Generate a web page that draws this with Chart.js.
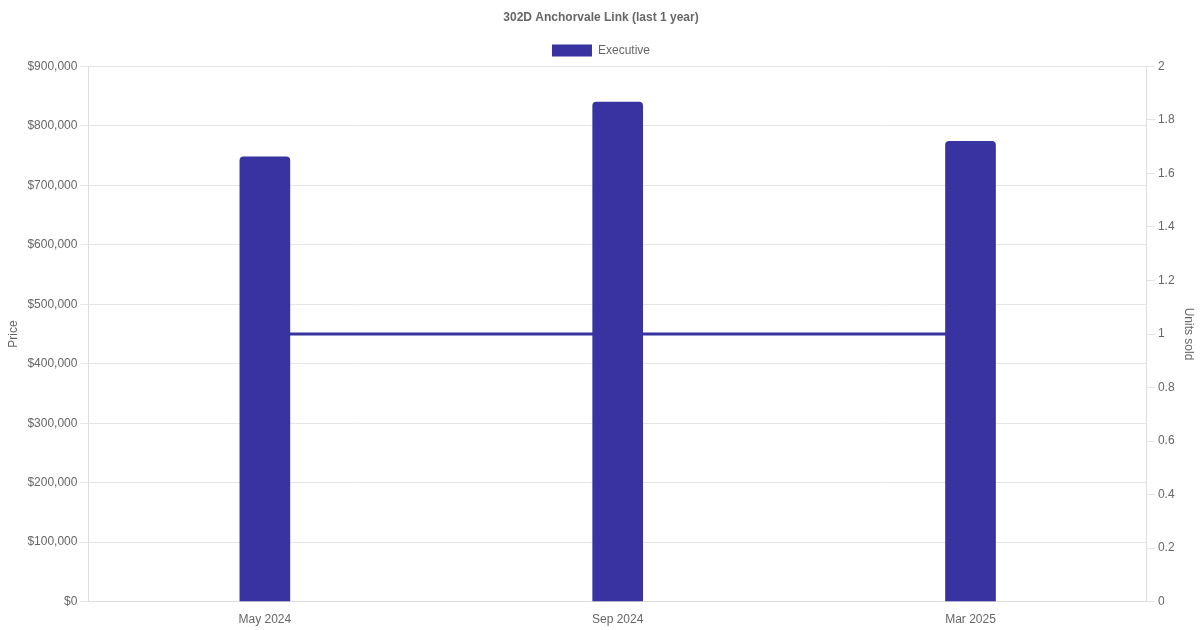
<!DOCTYPE html>
<html><head><meta charset="utf-8">
<script src="https://cdn.jsdelivr.net/npm/chart.js@4"></script>
<style>html,body{margin:0;padding:0;background:#fff}#wrap{width:1200px;height:630px}</style>
</head><body><div id="wrap"><canvas id="c" width="1200" height="630"></canvas></div>
<script>
const categories = ["May 2024", "Sep 2024", "Mar 2025"];
const prices = [748000, 840000, 774000];
const unitsSold = [1, 1, 1];
const seriesName = "Executive";
const color = "#3833A0";

Chart.defaults.font.family = "'Liberation Sans', Arial, Helvetica, sans-serif";
Chart.defaults.font.size = 12;
Chart.defaults.color = "#666";

new Chart(document.getElementById('c'), {
  data: {
    labels: categories,
    datasets: [
      { type: 'bar', label: seriesName, data: prices, backgroundColor: color, borderRadius: 4,
        barThickness: 50, yAxisID: 'y', order: 1 },
      { type: 'line', label: 'Units', data: unitsSold, borderColor: color, backgroundColor: color,
        borderWidth: 3, pointRadius: 0, yAxisID: 'y1', order: 2 }
    ]
  },
  options: {
    responsive: false, animation: false,
    layout: { padding: { left: 2, right: 0, top: 0, bottom: 0 } },
    plugins: {
      title: { display: true, text: '302D Anchorvale Link (last 1 year)', font: { weight: 'bold', size: 12 }, color: '#666', padding: { top: 10, bottom: 10 } },
      legend: { labels: { boxWidth: 40, boxHeight: 12, filter: i => i.text === seriesName } },
      tooltip: { enabled: false }
    },
    scales: {
      x: { grid: { display: false }, border: { color: '#ddd' } },
      y: { position: 'left', min: 0, max: 900000,
        title: { display: true, text: 'Price' },
        ticks: { stepSize: 100000, callback: v => '$' + v.toLocaleString('en-US') },
        grid: { color: '#e5e5e5' }, border: { color: '#ddd' } },
      y1: { position: 'right', min: 0, max: 2,
        title: { display: true, text: 'Units sold' },
        ticks: { stepSize: 0.2, callback: v => String(Math.round(v * 10) / 10) },
        grid: { drawOnChartArea: false, color: '#e5e5e5' }, border: { color: '#ddd' } }
    }
  }
});
</script></body></html>
